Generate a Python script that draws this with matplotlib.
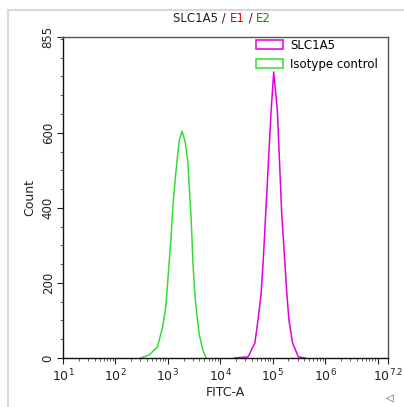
import matplotlib
matplotlib.use("Agg")
import matplotlib.pyplot as plt
from matplotlib.lines import Line2D
from matplotlib.patches import Rectangle
from matplotlib.offsetbox import TextArea, HPacker, AnchoredOffsetbox
import numpy as np

# Data (log10 of FITC-A, Count)
iso_log = [2.48, 2.64, 2.80, 2.90, 2.96, 3.01, 3.06, 3.10, 3.15, 3.19, 3.22, 3.27,
           3.33, 3.38, 3.41, 3.44, 3.46, 3.48, 3.51, 3.55, 3.60, 3.67, 3.73]
iso_cnt = [0, 8, 29, 82, 135, 225, 320, 410, 490, 545, 580, 604,
           577, 525, 453, 384, 321, 250, 180, 120, 62, 20, 0]
slc_log = [4.27, 4.53, 4.66, 4.72, 4.78, 4.82, 4.87, 4.92, 4.97, 5.02,
           5.09, 5.13, 5.17, 5.23, 5.27, 5.31, 5.38, 5.49, 5.62]
slc_cnt = [0, 3, 40, 101, 172, 260, 392, 525, 657, 762,
           657, 525, 392, 260, 172, 101, 40, 3, 0]

x_exps = [1, 2, 3, 4, 5, 6, 7.2]
y_ticks = [0, 200, 400, 600, 855]
series_names = ["SLC1A5", "Isotype control"]
colors = ["#e000e0", "#33dd33"]

plt.rcParams['font.family'] = ['DejaVu Sans']
fig = plt.figure(figsize=(4.04, 4.07), dpi=100)
ax = fig.add_axes([63/404, 49/407, 325/404, 321/407])

ax.plot(10**np.array(slc_log), slc_cnt, color=colors[0], lw=1.1)
ax.plot(10**np.array(iso_log), iso_cnt, color=colors[1], lw=1.1)

ax.set_xscale('log')
ax.set_xlim(10**1, 10**7.2)
ax.set_ylim(0, 855)

all_exps = [1, 2, 3, 4, 5, 6, 7, 7.2]
major = [10.0**e for e in all_exps]
labels = [(r'$\mathregular{10^{%g}}$' % e) if e in x_exps else '' for e in all_exps]
ax.set_xticks(major)
ax.set_xticklabels(labels, fontsize=9, color='#222222')
minors = [m * 10.0**d for d in range(1, 8) for m in range(2, 10) if m * 10.0**d < 10**7.2]
ax.set_xticks(minors, minor=True)
ax.set_xticklabels([], minor=True)

ax.set_yticks(y_ticks)
ax.set_yticklabels([str(v) for v in y_ticks], fontsize=8.5, rotation=90, va='center', color='#222222')
ax.set_yticks(np.arange(0, 851, 50), minor=True)

ax.tick_params(axis='both', which='major', direction='out', length=4, width=0.8, color='#222222', pad=2)
ax.tick_params(axis='both', which='minor', direction='out', length=2.5, width=0.6, color='#444444')
ax.tick_params(axis='x', which='major', pad=3)

for s in ['top', 'right']:
    ax.spines[s].set_color('#555555')
    ax.spines[s].set_linewidth(1.0)
for s in ['left', 'bottom']:
    ax.spines[s].set_color('#111111')
    ax.spines[s].set_linewidth(1.0)

ax.set_xlabel('FITC-A', fontsize=9, labelpad=1, color='#222222')
ax.set_ylabel('Count', fontsize=9, labelpad=4, color='#222222')

# Legend with outline boxes
handles = [Rectangle((0, 0), 1, 1, facecolor='none', edgecolor=c, lw=1.1) for c in colors]
leg = ax.legend(handles, series_names, loc='upper left', bbox_to_anchor=(0.58, 1.01),
                frameon=False, fontsize=8.5, handlelength=2.3, handleheight=0.8,
                handletextpad=0.6, labelspacing=0.55, borderaxespad=0)

# Title with coloured parts
parts = [("SLC1A5 / ", "#222222"), ("E1", "#e00000"), (" / ", "#222222"), ("E2", "#208020")]
areas = [TextArea(t, textprops=dict(color=c, fontsize=8.5)) for t, c in parts]
box = HPacker(children=areas, align="baseline", pad=0, sep=0)
anch = AnchoredOffsetbox(loc='center', child=box, frameon=False,
                         bbox_to_anchor=(222/404, 1 - 18/407), bbox_transform=fig.transFigure,
                         borderpad=0, pad=0)
fig.add_artist(anch)

# Outer light gray border
fig.add_artist(Line2D([8/404, 8/404], [0, 1 - 10/407], transform=fig.transFigure, color='#d8d8d8', lw=1.5))
fig.add_artist(Line2D([8/404, 1], [1 - 10/407, 1 - 10/407], transform=fig.transFigure, color='#d8d8d8', lw=1.5))

fig.text(390/404, 1 - 398/407, '◁', fontsize=7, color='#444444', ha='center', va='center')

fig.savefig('out.png', dpi=100)
